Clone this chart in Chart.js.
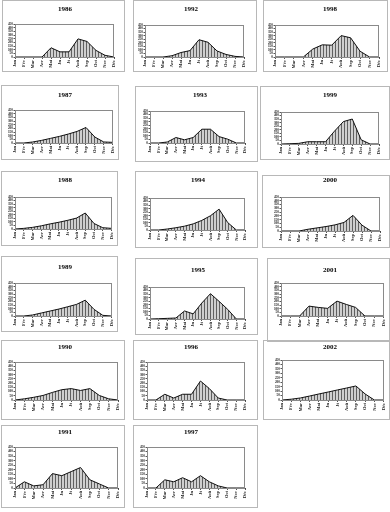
<!DOCTYPE html>
<html><head><meta charset="utf-8">
<script src="https://cdn.jsdelivr.net/npm/chart.js@4/dist/chart.umd.min.js"></script>
<style>
body{margin:0;background:#fff;width:390px;height:512px;position:relative;overflow:hidden}
.box{position:absolute;border:1px solid #b8b8b8;box-sizing:border-box}
canvas{position:absolute}
</style></head><body>
<script>
const months = ['Jan','Fév','Mar','Avr','Mai','Jn','Jt','Aoû','Sep','Oct','Nov','Déc'];
const yTicks = [0,50,100,150,200,250,300,350,400,450];

const s1986 = [0,0,0,0,126,70,70,247,212,90,23,0];
const s1987 = [0,0,14,36,63,90,122,158,212,81,14,9];
const s1988 = [0,9,23,45,72,95,122,153,225,77,18,9];
const s1989 = [0,0,14,41,68,95,126,158,216,90,9,0];
const s1990 = [0,14,32,54,90,122,135,113,135,54,14,0];
const s1991 = [0,68,23,36,158,135,180,225,90,45,0,0];
const s1992 = [0,0,0,18,63,90,243,207,85,36,9,0];
const s1993 = [0,0,14,77,45,77,194,194,90,54,0,0];
const s1994 = [0,0,14,32,54,86,135,200,293,104,0,0];
const s1995 = [0,4,9,14,113,72,225,356,248,135,0,0];
const s1996 = [0,0,68,23,68,68,225,135,23,0,0,0];
const s1997 = [0,0,90,68,113,68,135,68,23,0,0,0];
const s1998 = [0,0,0,0,112,171,166,301,270,81,0,0];
const s1999 = [0,4,9,32,32,32,180,315,351,59,0,0];
const s2000 = [0,0,0,23,41,59,81,113,207,77,0,0];
const s2001 = [0,0,0,135,117,104,203,158,117,0,0,0];
const s2002 = [0,9,23,45,68,90,113,135,158,68,0,0];

const series = {1986:s1986,1987:s1987,1988:s1988,1989:s1989,1990:s1990,1991:s1991,
  1992:s1992,1993:s1993,1994:s1994,1995:s1995,1996:s1996,1997:s1997,
  1998:s1998,1999:s1999,2000:s2000,2001:s2001,2002:s2002};

// layout: box [x0,y0,x1,y1], plot [x0,y0,x1,y1], title [cx,cy]
const panels = [
 {y:'1986', box:[2,0,125,72],   plot:[15,24,114,57],   t:[65,9]},
 {y:'1987', box:[1,85,119,160], plot:[15,110,113,143], t:[65,95]},
 {y:'1988', box:[1,171,118,246],plot:[15,197,114,229], t:[65,180]},
 {y:'1989', box:[1,256,118,332],plot:[15,283,114,316], t:[65,267]},
 {y:'1990', box:[1,340,125,420],plot:[15,362,118,400], t:[65,347]},
 {y:'1991', box:[1,425,125,508],plot:[15,447,118,488], t:[65,432]},
 {y:'1992', box:[133,0,257,72], plot:[145,25,244,57],  t:[191,9]},
 {y:'1993', box:[135,86,258,162],plot:[150,111,245,143],t:[200,95]},
 {y:'1994', box:[135,171,258,248],plot:[150,198,245,230],t:[198,180]},
 {y:'1995', box:[135,258,258,335],plot:[150,287,245,319],t:[198,270]},
 {y:'1996', box:[133,340,258,420],plot:[147,362,245,400],t:[191,347]},
 {y:'1997', box:[133,425,258,508],plot:[147,447,245,488],t:[191,432]},
 {y:'1998', box:[263,0,388,72], plot:[275,25,379,57],  t:[330,9]},
 {y:'1999', box:[260,86,390,160],plot:[281,112,379,144],t:[330,95]},
 {y:'2000', box:[262,175,390,248],plot:[281,197,380,231],t:[330,180]},
 {y:'2001', box:[267,258,390,342],plot:[281,283,384,316],t:[330,270]},
 {y:'2002', box:[263,340,390,420],plot:[282,360,385,400],t:[330,347]}
];

const WY = 10, HX = 11;
const FONT = "'Liberation Serif', 'DejaVu Serif', serif";

panels.forEach(p => {
  const [bx0,by0,bx1,by1] = p.box;
  const [px0,py0,px1,py1] = p.plot;
  const w = bx1-bx0, h = by1-by0;
  const div = document.createElement('div');
  div.className='box';
  div.style.left=bx0+'px'; div.style.top=by0+'px';
  div.style.width=w+'px'; div.style.height=h+'px';
  document.body.appendChild(div);
  const cv = document.createElement('canvas');
  cv.width=w; cv.height=h;
  cv.style.left=bx0+'px'; cv.style.top=by0+'px';
  cv.style.width=w+'px'; cv.style.height=h+'px';
  document.body.appendChild(cv);
  const ctx = cv.getContext('2d');
  const tile = document.createElement('canvas');
  tile.width=3; tile.height=1;
  const tc = tile.getContext('2d');
  tc.fillStyle='#cfcfcf'; tc.fillRect(0,0,3,1);
  tc.fillStyle='#606060'; tc.fillRect(0,0,1,1);
  const pattern = ctx.createPattern(tile,'repeat');

  const pad = {
    left: Math.max(px0-bx0-WY,0),
    top: Math.max(py0-by0,0),
    right: Math.max(bx1-px1,0),
    bottom: Math.max(by1-py1-HX,0)
  };
  const frame = {
    id:'frame',
    afterDraw(chart){
      const a = chart.chartArea, c = chart.ctx;
      c.save();
      c.strokeStyle='#8a8a8a'; c.lineWidth=1;
      c.strokeRect(Math.round(a.left)+0.5, Math.round(a.top)+0.5, Math.round(a.right-a.left)-1, Math.round(a.bottom-a.top));
      c.fillStyle='#000';
      c.font = "bold 7px " + FONT;
      c.textAlign='center'; c.textBaseline='middle';
      c.fillText(p.y, p.t[0]-bx0, p.t[1]-by0);
      c.restore();
    }
  };
  new Chart(ctx, {
    type:'line',
    data:{labels:months, datasets:[{data:series[p.y], borderColor:'#111', borderWidth:1,
      backgroundColor:pattern, fill:'origin', pointRadius:0, tension:0}]},
    options:{
      responsive:false, animation:false, events:[],
      layout:{padding:pad},
      plugins:{legend:{display:false}, title:{display:false}, tooltip:{enabled:false}},
      scales:{
        x:{
          grid:{display:true, drawOnChartArea:false, tickLength:2, color:'#555'},
          border:{color:'#444'},
          ticks:{font:{family:FONT, size:4.5, weight:'bold'}, color:'#222', maxRotation:90, minRotation:90, autoSkip:false, padding:1},
          afterFit(s){ s.height = HX; }
        },
        y:{
          min:0, max:450,
          afterBuildTicks(s){ s.ticks = yTicks.map(v=>({value:v})); },
          grid:{display:true, drawOnChartArea:false, tickLength:1.5, color:'#555'},
          border:{color:'#444'},
          ticks:{font:{family:FONT, size:3.4, weight:'bold'}, color:'#222', autoSkip:false, padding:0.5},
          afterFit(s){ s.width = WY; }
        }
      }
    },
    plugins:[frame]
  });
});
</script>
</body></html>
